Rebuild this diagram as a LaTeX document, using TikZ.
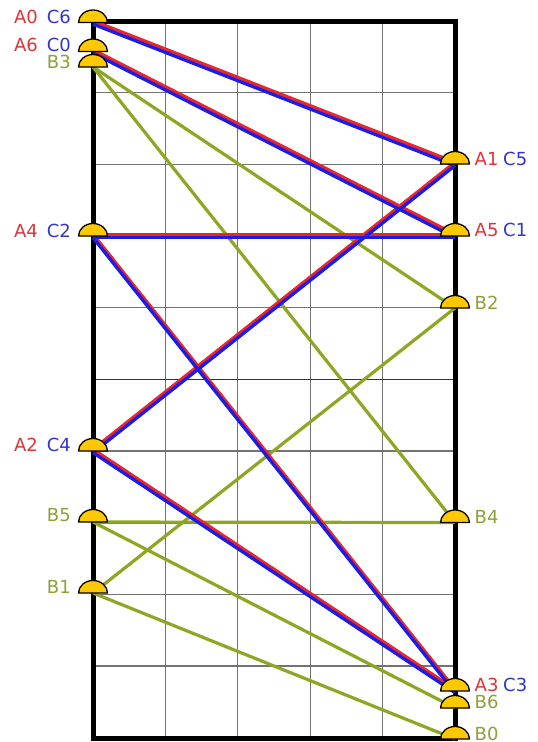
\documentclass[tikz,border=0pt]{standalone}
\usepackage{fontspec}
\setmainfont{DejaVu Sans}
\definecolor{lred}{RGB}{232,38,44}
\definecolor{lblue}{RGB}{28,28,232}
\definecolor{lgreen}{RGB}{140,168,35}
\definecolor{tred}{RGB}{222,52,56}
\definecolor{tblue}{RGB}{52,52,205}
\definecolor{tgreen}{RGB}{140,160,58}
\definecolor{domefill}{RGB}{255,200,0}
\begin{document}
\begin{tikzpicture}[x=1pt,y=-1pt,
  gridline/.style={draw=black!55,line width=1.3pt},
  midline/.style={draw=black!80,line width=1.7pt},
  frameline/.style={draw=black,line width=5pt},
  gline/.style={draw=lgreen,line width=3.2pt},
  rline/.style={draw=lred,line width=3.3pt,transform canvas={yshift=1.7pt}},
  bline/.style={draw=lblue,line width=3.3pt,transform canvas={yshift=-1.6pt}},
  lbl/.style={inner sep=0pt,font=\fontsize{18}{18}\selectfont},
  lbll/.style={lbl,anchor=east},
  lblr/.style={lbl,anchor=west},
  dome/.pic={\filldraw[fill=domefill,draw=black,line width=1.3pt,line join=round]
     (-14.5pt,0pt) arc[start angle=180,end angle=0,x radius=14.5pt,y radius=12.5pt] -- cycle;}
]
\useasboundingbox (0,0) rectangle (538,742);
% grid
\foreach \x in {165.4,237.8,310.2,382.6} \draw[gridline] (\x,21) -- (\x,738);
\foreach \y in {92.7,164.4,236,307.8,451,523,594.6,666} \draw[gridline] (93,\y) -- (455,\y);
\draw[midline] (93,379.5) -- (455,379.5);
\draw[frameline] (93,21) rectangle (455,738.5);
% points
\coordinate (nA0) at (93,22.5);
\coordinate (nA6) at (93,51.5);
\coordinate (nB3) at (93,67);
\coordinate (nA4) at (93,236);
\coordinate (nA2) at (93,451);
\coordinate (nB5) at (93,522);
\coordinate (nB1) at (93,593);
\coordinate (nA1) at (455,164);
\coordinate (nA5) at (455,236);
\coordinate (nB2) at (455,308);
\coordinate (nB4) at (455,522.5);
\coordinate (nA3) at (455,691);
\coordinate (nB6) at (455,708);
\coordinate (nB0) at (455,739);
% green connections
\draw[gline] (nB3) -- (nB2);
\draw[gline] (nB3) -- (nB4);
\draw[gline] (nB5) -- (nB4);
\draw[gline] (nB5) -- (nB6);
\draw[gline] (nB1) -- (nB2);
\draw[gline] (nB1) -- (nB0);
% red connections
\draw[rline] (nA0) -- (nA1);
\draw[rline] (nA6) -- (nA5);
\draw[rline] (nA4) -- (nA5);
\draw[rline] (nA4) -- (nA3);
\draw[rline] (nA2) -- (nA1);
\draw[rline] (nA2) -- (nA3);
% blue connections
\draw[bline] (nA0) -- (nA1);
\draw[bline] (nA6) -- (nA5);
\draw[bline] (nA4) -- (nA5);
\draw[bline] (nA4) -- (nA3);
\draw[bline] (nA2) -- (nA1);
\draw[bline] (nA2) -- (nA3);
% domes
\foreach \p in {nA0,nA6,nB3,nA4,nA2,nB5,nB1,nA1,nA5,nB2,nB4,nA3,nB6,nB0}
  \pic at (\p) {dome};
% labels left
\node[lbll,text=tred] (tA0) at (38,17) {A0};
\node[lbll,text=tblue] (tC6) at (71,17) {C6};
\node[lbll,text=tred] (tA6) at (38,45) {A6};
\node[lbll,text=tblue] (tC0) at (71,45) {C0};
\node[lbll,text=tgreen] (tB3) at (71,62) {B3};
\node[lbll,text=tred] (tA4) at (38,230.5) {A4};
\node[lbll,text=tblue] (tC2) at (71,230.5) {C2};
\node[lbll,text=tred] (tA2) at (38,445) {A2};
\node[lbll,text=tblue] (tC4) at (71,445) {C4};
\node[lbll,text=tgreen] (tB5) at (71,515.5) {B5};
\node[lbll,text=tgreen] (tB1) at (71,586.5) {B1};
% labels right
\node[lblr,text=tred] (tA1) at (474.5,158.5) {A1};
\node[lblr,text=tblue] (tC5) at (503,158.5) {C5};
\node[lblr,text=tred] (tA5) at (474.5,230) {A5};
\node[lblr,text=tblue] (tC1) at (503,230) {C1};
\node[lblr,text=tgreen] (tB2) at (474.5,302.5) {B2};
\node[lblr,text=tgreen] (tB4) at (474.5,516.5) {B4};
\node[lblr,text=tred] (tA3) at (474.5,685) {A3};
\node[lblr,text=tblue] (tC3) at (503,685) {C3};
\node[lblr,text=tgreen] (tB6) at (474.5,702) {B6};
\node[lblr,text=tgreen] (tB0) at (474.5,734) {B0};
\end{tikzpicture}
\end{document}
